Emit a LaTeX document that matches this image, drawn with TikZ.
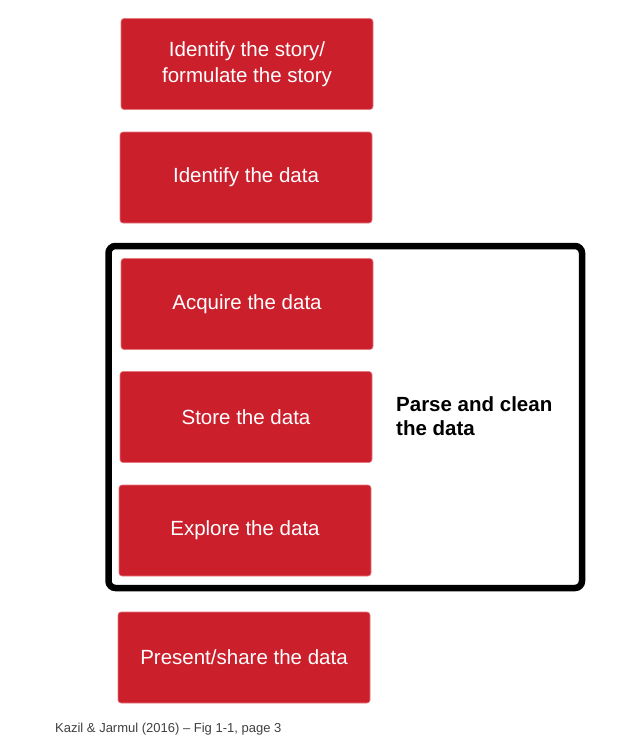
\documentclass[tikz,border=0pt]{standalone}
\usepackage{fontspec}
\setmainfont{Liberation Sans}
\definecolor{boxred}{RGB}{203,31,44}
\definecolor{boxedge}{RGB}{230,120,128}
\definecolor{capgray}{RGB}{64,64,64}
\begin{document}
\begin{tikzpicture}[x=1pt,y=-1pt,
  redbox/.style={rectangle, rounded corners=3pt, fill=boxred, draw=boxedge, line width=0.6pt,
    minimum width=252pt, minimum height=91pt, inner sep=0pt, text=white, align=center,
    font=\fontsize{20.5}{26}\selectfont},
  frame/.style={draw=black, line width=6.5pt, rounded corners=7pt},
  note/.style={inner sep=0pt, align=left, font=\fontsize{20.5}{24}\selectfont\bfseries},
  caption/.style={inner sep=0pt, text=capgray, font=\fontsize{13}{15}\selectfont}]
\useasboundingbox (0,0) rectangle (621,737);
\draw[frame] (108.5,246) rectangle (582,588);
\node[redbox] (story) at (247,64) {Identify the story/\\formulate the story};
\node[redbox] (identify) at (246,177.5) {Identify the data};
\node[redbox] (acquire) at (247,304) {Acquire the data};
\node[redbox] (store) at (246,417) {Store the data};
\node[redbox] (explore) at (245,530.5) {Explore the data};
\node[redbox] (present) at (244,657.5) {Present/share the data};
\node[note, anchor=west] (parse) at (396,416.5) {Parse and clean\\the data};
\node[caption, anchor=base west] (cap) at (55,732) {Kazil \& Jarmul (2016) – Fig 1-1, page 3};
\end{tikzpicture}
\end{document}
